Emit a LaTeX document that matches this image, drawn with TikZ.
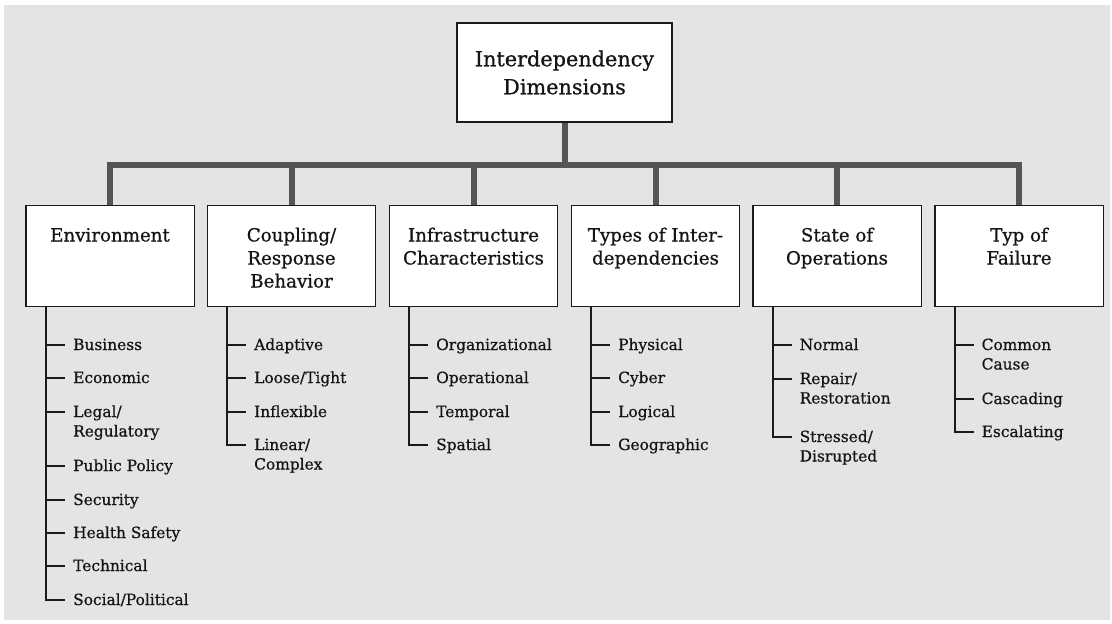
\documentclass[tikz,border=0pt]{standalone}
\usepackage{fontspec}
\setmainfont{DejaVu Serif}[FakeBold=0.7]
\definecolor{paper}{HTML}{E4E4E6}
\definecolor{barclr}{HTML}{555555}
\definecolor{ink}{HTML}{151515}
\definecolor{rule}{HTML}{1A1A1A}
% multi-line text whose baseline is that of its first line
\newcommand{\toplines}[2]{\begin{tabular}[t]{@{}#1@{}}#2\end{tabular}}
\begin{document}
\begin{tikzpicture}[x=1pt,y=-1pt,
  every node/.style={text=ink},
  topbox/.style={draw=rule,fill=white,line width=1.1pt,minimum width=215pt,minimum height=99pt,
    align=center,inner sep=0pt,font=\fontsize{20.8}{28}\selectfont},
  hbox/.style={draw=rule,fill=white,line width=1.1pt,minimum width=167pt,minimum height=100pt,inner sep=0pt},
  hlabel/.style={anchor=base,inner sep=0pt,font=\fontsize{18.2}{23}\selectfont},
  item/.style={anchor=base west,inner sep=0pt,font=\fontsize{15.4}{19.5}\selectfont},
  bar/.style={draw=barclr,line width=6pt,line join=miter},
  twig/.style={draw=rule,line width=2pt,line join=miter},
]
% canvas
\useasboundingbox (0,0) rectangle (1112,624);
\fill[white] (0,0) rectangle (1112,624);
\fill[paper] (4,5) rectangle (1110,620);

% root and category boxes
\node[topbox] (root) at (564.5,72.5) {Interdependency\\Dimensions};
\coordinate (bus) at (564.5,165);

\node[hbox] (b1) at (110,256) {};
\node[hbox] (b2) at (291.5,256) {};
\node[hbox] (b3) at (473.5,256) {};
\node[hbox] (b4) at (655.5,256) {};
\node[hbox] (b5) at (837,256) {};
\node[hbox] (b6) at (1019,256) {};

% thick connectors from the root down to each category
\foreach \b in {b1,b2,b3,b4,b5,b6}
  \draw[bar] (\b.north) -- (\b.north |- bus) -| (root.south);
% redraw box frames over the bar ends
\foreach \b in {b1,b2,b3,b4,b5,b6}
  \draw[draw=rule,fill=white,line width=1.1pt] (\b.north west) rectangle (\b.south east);

\node[hlabel] (l1) at (110,241.5) {Environment};
\node[hlabel] (l2) at (291.5,241.5) {\toplines{c}{Coupling/\\Response\\Behavior}};
\node[hlabel] (l3) at (473.5,241.5) {\toplines{c}{Infrastructure\\Characteristics}};
\node[hlabel] (l4) at (655.5,241.5) {\toplines{c}{Types of Inter-\\dependencies}};
\node[hlabel] (l5) at (837,241.5) {\toplines{c}{State of\\Operations}};
\node[hlabel] (l6) at (1019,241.5) {\toplines{c}{Typ of\\Failure}};

% sub-items: x = box left + 46, baseline = tick level + 5
\node[item] (e1) at (73,350) {Business};
\node[item] (e2) at (73,383) {Economic};
\node[item] (e3) at (73,417) {\toplines{l}{Legal/\\Regulatory}};
\node[item] (e4) at (73,471) {Public Policy};
\node[item] (e5) at (73,505) {Security};
\node[item] (e6) at (73,538) {Health Safety};
\node[item] (e7) at (73,571) {Technical};
\node[item] (e8) at (73,605) {Social/Political};

\node[item] (c1) at (254,350) {Adaptive};
\node[item] (c2) at (254,383) {Loose/Tight};
\node[item] (c3) at (254,417) {Inflexible};
\node[item] (c4) at (254,450) {\toplines{l}{Linear/\\Complex}};

\node[item] (i1) at (436,350) {Organizational};
\node[item] (i2) at (436,383) {Operational};
\node[item] (i3) at (436,417) {Temporal};
\node[item] (i4) at (436,450) {Spatial};

\node[item] (t1) at (618,350) {Physical};
\node[item] (t2) at (618,383) {Cyber};
\node[item] (t3) at (618,417) {Logical};
\node[item] (t4) at (618,450) {Geographic};

\node[item] (s1) at (799.5,350) {Normal};
\node[item] (s2) at (799.5,384) {\toplines{l}{Repair/\\Restoration}};
\node[item] (s3) at (799.5,442) {\toplines{l}{Stressed/\\Disrupted}};

\node[item] (f1) at (981.5,350) {\toplines{l}{Common\\Cause}};
\node[item] (f2) at (981.5,404) {Cascading};
\node[item] (f3) at (981.5,437) {Escalating};

% trunks with ticks
\foreach \b/\last/\rest in {b1/e8/{e1,e2,e3,e4,e5,e6,e7},
                            b2/c4/{c1,c2,c3},
                            b3/i4/{i1,i2,i3},
                            b4/t4/{t1,t2,t3},
                            b5/s3/{s1,s2},
                            b6/f3/{f1,f2}}{
  \draw[twig] ([xshift=20pt]\b.south west) |- ([shift={(-8pt,5pt)}]\last.base west);
  \foreach \n in \rest
    \draw[twig] ([shift={(-8pt,5pt)}]\n.base west) -- ++(-18.5,0);
}
\end{tikzpicture}
\end{document}
